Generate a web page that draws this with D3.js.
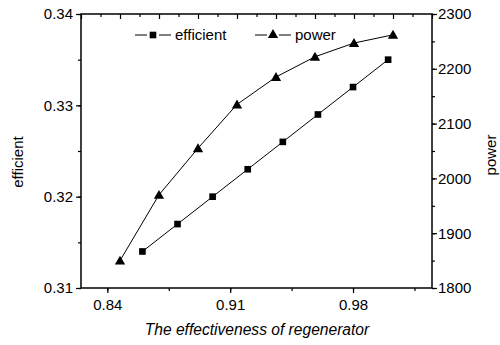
<!DOCTYPE html>
<meta charset="utf-8">
<title>efficient and power</title>
<style>
    body { margin: 0; background: #fff; }
    text { font-family: "Liberation Sans", Arial, sans-serif; fill: #000; }
</style>

<body>
    <script src="https://d3js.org/d3.v7.min.js" charset="utf-8"></script>
    <script>
        // data
        var effX = [0.86, 0.88, 0.90, 0.92, 0.94, 0.96, 0.98, 1.00];
        var effY = [0.314, 0.317, 0.320, 0.323, 0.326, 0.329, 0.332, 0.335];
        var powX = [0.84, 0.86, 0.88, 0.90, 0.92, 0.94, 0.96, 0.98];
        var powY = [1850, 1970, 2055, 2135, 2185, 2222, 2247, 2262];
        var xTicks = [0.84, 0.91, 0.98];
        var leftTicks = [0.31, 0.32, 0.33, 0.34];
        var rightTicks = [1800, 1900, 2000, 2100, 2200, 2300];

        var width = 500,
            height = 345;
        var L = 81, R = 432, T = 14, B = 288;

        var svg = d3.select("body").append("svg")
            .attr("width", width)
            .attr("height", height);

        var x = d3.scaleLinear().domain([0.825, 1.025]).range([L, R]);
        var xTop = d3.scaleLinear().domain([0.82, 1.0]).range([L, R]);
        var yL = d3.scaleLinear().domain([0.31, 0.34]).range([B, T]);
        var yR = d3.scaleLinear().domain([1800, 2300]).range([B, T]);

        // minor ticks
        var minorX = d3.range(0, 6).map(function (i) { return +(0.84 + i * 0.035).toFixed(3); });
        var minorL = d3.range(0, 7).map(function (i) { return +(0.31 + i * 0.005).toFixed(3); });
        var minorR = d3.range(0, 11).map(function (i) { return 1800 + i * 50; });
        var topTicks = d3.range(0, 19).map(function (i) { return +(0.82 + i * 0.01).toFixed(2); });

        var fmt = d3.format(".2f");

        function style(g) {
            g.select(".domain").remove();
            g.selectAll("line").attr("stroke", "#000").attr("stroke-width", 1.2);
            g.selectAll("text").style("font-size", "15px");
        }

        // bottom
        svg.append("g").attr("transform", "translate(0," + B + ")")
            .call(d3.axisBottom(x).tickValues(minorX).tickSize(3).tickFormat(""))
            .call(style);
        svg.append("g").attr("transform", "translate(0," + B + ")")
            .call(d3.axisBottom(x).tickValues(xTicks).tickSize(5).tickPadding(6).tickFormat(fmt))
            .call(style);

        // top (power layer x axis, no labels, inward)
        svg.append("g").attr("transform", "translate(0," + T + ")")
            .call(d3.axisBottom(xTop).tickValues(topTicks.filter(function (d, i) { return i % 2; })).tickSize(3).tickFormat(""))
            .call(style);
        svg.append("g").attr("transform", "translate(0," + T + ")")
            .call(d3.axisBottom(xTop).tickValues(topTicks.filter(function (d, i) { return !(i % 2); })).tickSize(5).tickFormat(""))
            .call(style);

        // left
        svg.append("g").attr("transform", "translate(" + L + ",0)")
            .call(d3.axisLeft(yL).tickValues(minorL).tickSize(3).tickFormat(""))
            .call(style);
        svg.append("g").attr("transform", "translate(" + L + ",0)")
            .call(d3.axisLeft(yL).tickValues(leftTicks).tickSize(5).tickPadding(3).tickFormat(fmt))
            .call(style);

        // right
        svg.append("g").attr("transform", "translate(" + R + ",0)")
            .call(d3.axisRight(yR).tickValues(minorR).tickSize(3).tickFormat(""))
            .call(style);
        svg.append("g").attr("transform", "translate(" + R + ",0)")
            .call(d3.axisRight(yR).tickValues(rightTicks).tickSize(5).tickPadding(1).tickFormat(d3.format("d")))
            .call(style);

        // frame
        svg.append("rect")
            .attr("x", L).attr("y", T)
            .attr("width", R - L).attr("height", B - T)
            .attr("fill", "none").attr("stroke", "#000").attr("stroke-width", 1.5);

        // series
        var eff = effX.map(function (d, i) { return [x(d), yL(effY[i])]; });
        var pow = powX.map(function (d, i) { return [xTop(d), yR(powY[i])]; });
        var line = d3.line();

        svg.append("path").attr("d", line(eff))
            .attr("fill", "none").attr("stroke", "#000").attr("stroke-width", 1);
        svg.append("path").attr("d", line(pow))
            .attr("fill", "none").attr("stroke", "#000").attr("stroke-width", 1);

        var sq = d3.symbol().type(d3.symbolSquare).size(44);
        var tri = d3.symbol().type(d3.symbolTriangle).size(46);

        svg.selectAll(".sq").data(eff).enter().append("path")
            .attr("class", "sq")
            .attr("d", sq)
            .attr("transform", function (d) { return "translate(" + d[0] + "," + d[1] + ")"; });
        svg.selectAll(".tri").data(pow).enter().append("path")
            .attr("class", "tri")
            .attr("d", tri)
            .attr("transform", function (d) { return "translate(" + d[0] + "," + (d[1] + 1) + ")"; });

        // legend
        function legendItem(x0, y0, shape, label) {
            var g = svg.append("g").attr("transform", "translate(" + x0 + "," + y0 + ")");
            g.append("line").attr("x1", 0).attr("x2", 12).attr("stroke", "#000");
            g.append("line").attr("x1", 24).attr("x2", 36).attr("stroke", "#000");
            g.append("path").attr("d", shape).attr("transform", "translate(18,0)");
            g.append("text").attr("x", 40).attr("y", 5).style("font-size", "15px").text(label);
        }
        legendItem(135, 35, sq, "efficient");
        legendItem(255, 35, tri, "power");

        // titles
        svg.append("text")
            .attr("transform", "translate(23," + 162 + ") rotate(-90)")
            .attr("text-anchor", "middle")
            .style("font-size", "15px")
            .text("efficient");
        svg.append("text")
            .attr("transform", "translate(496," + 155 + ") rotate(-90)")
            .attr("text-anchor", "middle")
            .style("font-size", "15px")
            .text("power");
        svg.append("text")
            .attr("x", 257).attr("y", 335)
            .attr("text-anchor", "middle")
            .style("font-size", "15.6px")
            .style("font-style", "italic")
            .text("The effectiveness of regenerator");
    </script>
